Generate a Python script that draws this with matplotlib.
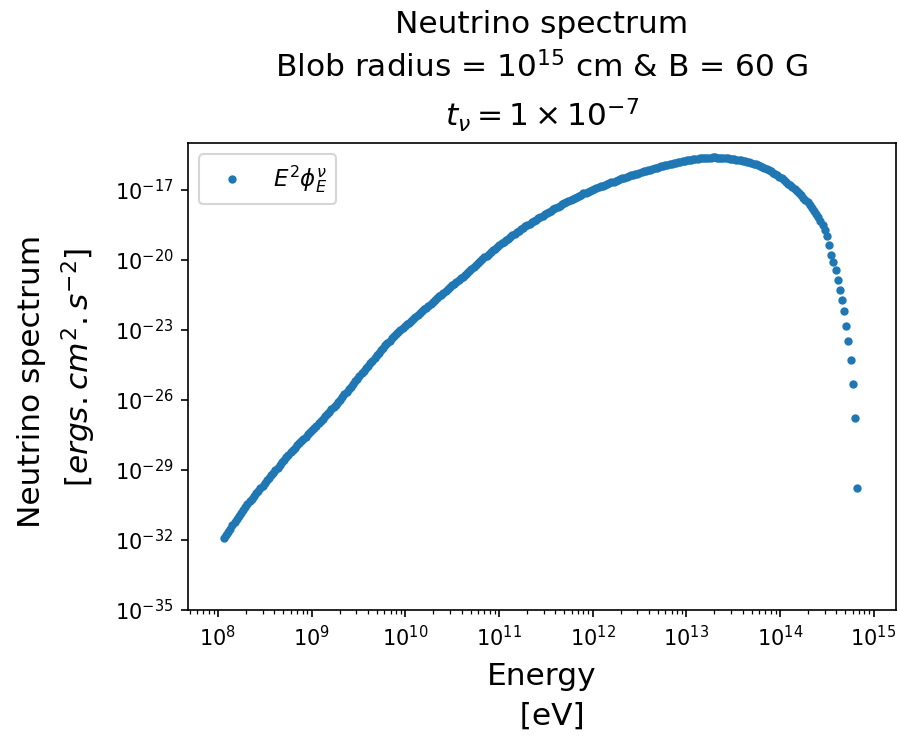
import numpy as np
import matplotlib
matplotlib.use("Agg")
import matplotlib.pyplot as plt
from matplotlib.ticker import NullLocator

# log10 of neutrino energy [eV]
log_energy = [
    8.062, 8.085, 8.108, 8.131, 8.154, 8.177, 8.200, 8.223, 8.246, 8.269,
    8.292, 8.315, 8.338, 8.361, 8.384, 8.407, 8.430, 8.453, 8.476, 8.499,
    8.522, 8.545, 8.568, 8.591, 8.614, 8.637, 8.660, 8.683, 8.706, 8.729,
    8.752, 8.775, 8.798, 8.821, 8.844, 8.867, 8.890, 8.913, 8.936, 8.959,
    8.982, 9.005, 9.028, 9.051, 9.074, 9.097, 9.120, 9.143, 9.166, 9.189,
    9.212, 9.235, 9.258, 9.281, 9.304, 9.327, 9.350, 9.373, 9.396, 9.419,
    9.442, 9.465, 9.488, 9.511, 9.534, 9.557, 9.580, 9.603, 9.626, 9.649,
    9.672, 9.695, 9.718, 9.741, 9.764, 9.787, 9.810, 9.833, 9.856, 9.879,
    9.902, 9.925, 9.948, 9.971, 9.994, 10.017, 10.040, 10.063, 10.086, 10.109,
    10.132, 10.155, 10.178, 10.201, 10.224, 10.247, 10.270, 10.293, 10.316, 10.339,
    10.362, 10.385, 10.408, 10.431, 10.454, 10.477, 10.500, 10.523, 10.546, 10.569,
    10.592, 10.615, 10.638, 10.661, 10.684, 10.707, 10.730, 10.753, 10.776, 10.799,
    10.822, 10.845, 10.868, 10.891, 10.914, 10.937, 10.960, 10.983, 11.006, 11.029,
    11.052, 11.075, 11.098, 11.121, 11.144, 11.167, 11.190, 11.213, 11.236, 11.259,
    11.282, 11.305, 11.328, 11.351, 11.374, 11.397, 11.420, 11.443, 11.466, 11.489,
    11.512, 11.535, 11.558, 11.581, 11.604, 11.627, 11.650, 11.673, 11.696, 11.719,
    11.742, 11.765, 11.788, 11.811, 11.834, 11.857, 11.880, 11.903, 11.926, 11.949,
    11.972, 11.995, 12.018, 12.041, 12.064, 12.087, 12.110, 12.133, 12.156, 12.179,
    12.202, 12.225, 12.248, 12.271, 12.294, 12.317, 12.340, 12.363, 12.386, 12.409,
    12.432, 12.455, 12.478, 12.501, 12.524, 12.547, 12.570, 12.593, 12.616, 12.639,
    12.662, 12.685, 12.708, 12.731, 12.754, 12.777, 12.800, 12.823, 12.846, 12.869,
    12.892, 12.915, 12.938, 12.961, 12.984, 13.007, 13.030, 13.053, 13.076, 13.099,
    13.122, 13.145, 13.168, 13.191, 13.214, 13.237, 13.260, 13.283, 13.306, 13.329,
    13.352, 13.375, 13.398, 13.421, 13.444, 13.467, 13.490, 13.513, 13.536, 13.559,
    13.582, 13.605, 13.628, 13.651, 13.674, 13.697, 13.720, 13.743, 13.766, 13.789,
    13.812, 13.835, 13.858, 13.881, 13.904, 13.927, 13.950, 13.973, 13.996, 14.019,
    14.042, 14.065, 14.088, 14.111, 14.134, 14.157, 14.180, 14.203, 14.226, 14.249,
    14.272, 14.295, 14.318, 14.341, 14.364, 14.387, 14.410, 14.433, 14.456, 14.479,
    14.502, 14.525, 14.548, 14.571, 14.594, 14.617, 14.640, 14.663, 14.686, 14.709,
    14.732, 14.755, 14.778, 14.801, 14.824,
]

# log10 of E^2 * phi_E [erg cm^-2 s^-1]
log_flux = [
    -31.90, -31.77, -31.64, -31.51, -31.37, -31.24, -31.10, -30.97, -30.84, -30.70,
    -30.59, -30.47, -30.35, -30.23, -30.12, -30.00, -29.89, -29.78, -29.67, -29.56,
    -29.45, -29.34, -29.23, -29.12, -29.01, -28.90, -28.79, -28.68, -28.57, -28.46,
    -28.35, -28.24, -28.15, -28.05, -27.95, -27.86, -27.76, -27.67, -27.57, -27.48,
    -27.38, -27.29, -27.19, -27.10, -27.00, -26.91, -26.81, -26.71, -26.61, -26.51,
    -26.41, -26.31, -26.20, -26.10, -26.00, -25.88, -25.77, -25.65, -25.54, -25.43,
    -25.31, -25.20, -25.09, -24.98, -24.87, -24.76, -24.65, -24.54, -24.43, -24.32,
    -24.21, -24.10, -23.99, -23.88, -23.77, -23.67, -23.57, -23.47, -23.37, -23.27,
    -23.18, -23.10, -23.02, -22.93, -22.85, -22.77, -22.69, -22.61, -22.53, -22.44,
    -22.36, -22.28, -22.20, -22.13, -22.05, -21.97, -21.89, -21.81, -21.73, -21.65,
    -21.57, -21.49, -21.41, -21.33, -21.25, -21.16, -21.09, -21.02, -20.94, -20.87,
    -20.80, -20.72, -20.64, -20.57, -20.49, -20.41, -20.33, -20.24, -20.16, -20.07,
    -19.98, -19.90, -19.82, -19.74, -19.66, -19.59, -19.52, -19.44, -19.37, -19.30,
    -19.23, -19.16, -19.09, -19.02, -18.95, -18.88, -18.81, -18.75, -18.69, -18.63,
    -18.57, -18.52, -18.46, -18.40, -18.35, -18.29, -18.23, -18.18, -18.12, -18.06,
    -18.01, -17.95, -17.90, -17.84, -17.78, -17.73, -17.68, -17.63, -17.58, -17.53,
    -17.48, -17.43, -17.39, -17.34, -17.30, -17.25, -17.21, -17.16, -17.12, -17.09,
    -17.05, -17.01, -16.97, -16.94, -16.90, -16.86, -16.83, -16.79, -16.76, -16.72,
    -16.68, -16.65, -16.61, -16.58, -16.54, -16.51, -16.48, -16.45, -16.42, -16.39,
    -16.36, -16.34, -16.31, -16.28, -16.25, -16.22, -16.20, -16.17, -16.14, -16.11,
    -16.09, -16.06, -16.03, -16.00, -15.98, -15.95, -15.93, -15.90, -15.88, -15.86,
    -15.84, -15.82, -15.80, -15.78, -15.76, -15.74, -15.73, -15.72, -15.70, -15.69,
    -15.68, -15.66, -15.66, -15.65, -15.64, -15.64, -15.63, -15.62, -15.62, -15.63,
    -15.63, -15.64, -15.64, -15.64, -15.65, -15.67, -15.68, -15.69, -15.71, -15.72,
    -15.73, -15.76, -15.78, -15.81, -15.83, -15.85, -15.88, -15.92, -15.96, -16.00,
    -16.04, -16.08, -16.11, -16.17, -16.22, -16.28, -16.33, -16.39, -16.44, -16.51,
    -16.58, -16.66, -16.74, -16.81, -16.89, -16.97, -17.06, -17.15, -17.24, -17.34,
    -17.43, -17.53, -17.65, -17.78, -17.90, -18.03, -18.15, -18.32, -18.50, -18.72,
    -19.00, -19.35, -19.78, -20.09, -20.46, -20.85, -21.30, -21.74, -22.20, -22.85,
    -23.50, -24.31, -25.30, -26.77, -29.79,
]

y_tick_exponents = [-35, -32, -29, -26, -23, -20, -17]

energy = 10.0 ** np.array(log_energy)
flux = 10.0 ** np.array(log_flux)

DPI = 150
fig = plt.figure(figsize=(898 / DPI, 736 / DPI), dpi=DPI)
ax = fig.add_axes([188 / 898, 1 - 610 / 736, (896 - 188) / 898, (610 - 143) / 736])

ax.plot(energy, flux, ".", color="#1f77b4", label=r"$E^2\phi_E^\nu$")

ax.set_xscale("log")
ax.set_yscale("log")
ax.set_xlim(10 ** 7.68, 10 ** 15.24)
ax.set_ylim(1e-35, 1e-15)
ax.set_yticks([10.0 ** e for e in y_tick_exponents])
ax.yaxis.set_minor_locator(NullLocator())
ax.tick_params(labelsize=10)

ax.set_title("Neutrino spectrum\nBlob radius = $10^{15}$ cm & B = 60 G\n"
             r"$t_{\nu} = 1 \times 10^{-7}$", fontsize=15, linespacing=1.45, pad=8)
ax.set_xlabel("Energy\n  [eV]", fontsize=15, linespacing=1.45, labelpad=6)
ax.set_ylabel("Neutrino spectrum \n  " + r"$[ergs.cm^2.s^{-2}]$", fontsize=15,
              linespacing=1.45, labelpad=8)
ax.legend(loc="upper left", fontsize=11)

fig.savefig("out.png", dpi=DPI)
